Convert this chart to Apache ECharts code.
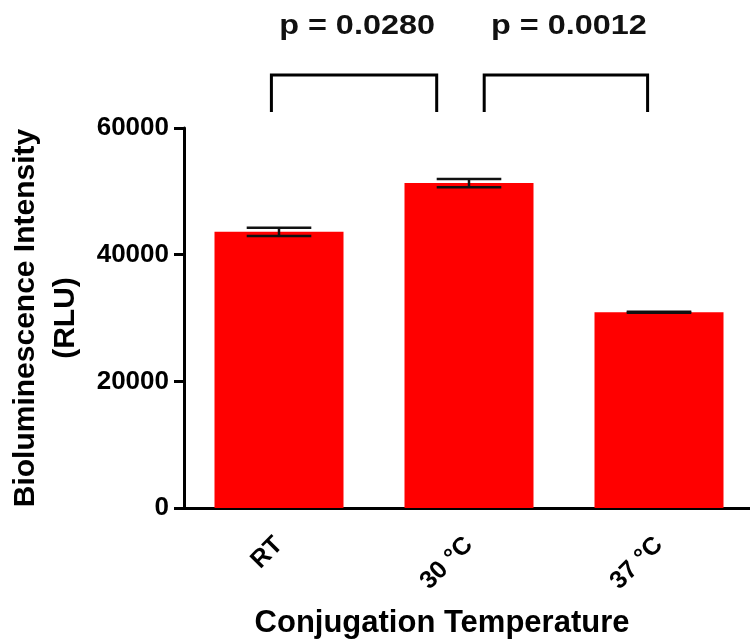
<!DOCTYPE html>
<html>
<head>
<meta charset="utf-8">
<script src="https://cdn.jsdelivr.net/npm/echarts@6/dist/echarts.min.js"></script>
<style>
  html, body { margin: 0; padding: 0; background: #fff; }
  #chart { width: 750px; height: 641px; }
</style>
</head>
<body>
<div id="chart"></div>
<script>
// Conjugation temperature groups and their mean luminescence (RLU) with SEM
const categories = ['RT', '30 °C', '37 °C'];
const means = [43600, 51300, 30900];
const sems = [650, 650, 80];
const yTicks = [0, 20000, 40000, 60000];

// Pairwise comparisons (category indexes) and their p-values
const comparisons = [[0, 1], [1, 2]];
const pValues = ['p = 0.0280', 'p = 0.0012'];

const FONT = '"Liberation Sans", Arial, sans-serif';

// Horizontal ends of each bracket, as a fraction of a category band from its centre
const bracketEnds = [[-0.04, -0.17], [0.08, -0.06]];

const chart = echarts.init(document.getElementById('chart'), null, { renderer: 'canvas' });

function renderErrorBar(params, api) {
  const i = api.value(0);
  const m = means[i], s = sems[i];
  const hi = api.coord([i, m + s]);
  const lo = api.coord([i, m - s]);
  const half = api.size([1, 0])[0] * 0.17;
  const style = { stroke: '#111', lineWidth: 2.5, fill: null };
  return {
    type: 'group',
    children: [
      { type: 'line', shape: { x1: hi[0], y1: hi[1], x2: lo[0], y2: lo[1] }, style },
      { type: 'line', shape: { x1: hi[0] - half, y1: hi[1], x2: hi[0] + half, y2: hi[1] }, style },
      { type: 'line', shape: { x1: lo[0] - half, y1: lo[1], x2: lo[0] + half, y2: lo[1] }, style }
    ]
  };
}

function renderBracket(params, api) {
  const k = params.dataIndex;
  const pair = comparisons[k];
  const band = api.size([1, 0])[0];
  const top = api.coord([0, yTicks[yTicks.length - 1]])[1];
  const xl = api.coord([pair[0], 0])[0] + bracketEnds[k][0] * band;
  const xr = api.coord([pair[1], 0])[0] + bracketEnds[k][1] * band;
  const yTop = top - 53, yBot = top - 16;
  const style = { stroke: '#000', lineWidth: 3, fill: null };
  return {
    type: 'group',
    children: [
      { type: 'polyline', shape: { points: [[xl, yBot], [xl, yTop], [xr, yTop], [xr, yBot]] }, style },
      {
        type: 'text',
        x: (xl + xr) / 2 + 3,
        y: top - 101,
        scaleX: 1.2,
        style: {
          text: pValues[k], x: 0, y: 0,
          align: 'center', verticalAlign: 'middle',
          fontSize: 27, fontWeight: 'bold', fontFamily: FONT, fill: '#111'
        }
      }
    ]
  };
}

chart.setOption({
  animation: false,
  backgroundColor: '#fff',
  grid: { left: 184, right: -4, top: 128, bottom: 133, containLabel: false, outerBoundsMode: 'none' },
  xAxis: {
    type: 'category',
    data: categories,
    name: 'Conjugation Temperature',
    nameLocation: 'middle',
    nameGap: 100,
    nameTextStyle: { fontSize: 31, fontWeight: 'bold', fontFamily: FONT, color: '#000', padding: [0, 54, 0, 0] },
    axisLine: { lineStyle: { color: '#000', width: 3 } },
    axisTick: { alignWithLabel: true, length: 12, lineStyle: { color: '#000', width: 3 } },
    axisLabel: { rotate: 45, margin: 33, fontSize: 25, fontWeight: 'bold', fontFamily: FONT, color: '#000' }
  },
  yAxis: {
    type: 'value',
    min: yTicks[0],
    max: yTicks[yTicks.length - 1],
    interval: yTicks[1] - yTicks[0],
    name: 'Bioluminescence Intensity\n(RLU)',
    nameLocation: 'middle',
    nameGap: 98,
    nameTextStyle: { fontSize: 30, fontWeight: 'bold', fontFamily: FONT, color: '#000', lineHeight: 40 },
    axisLine: { show: true, lineStyle: { color: '#000', width: 3 } },
    axisTick: { show: true, length: 10, lineStyle: { color: '#000', width: 3 } },
    splitLine: { show: false },
    axisLabel: {
      margin: 15, fontSize: 26, fontWeight: 'bold', fontFamily: FONT, color: '#000',
      formatter: v => String(v)
    }
  },
  series: [
    {
      type: 'bar',
      data: means,
      barWidth: 129,
      itemStyle: { color: '#ff0000' },
      z: 2
    },
    {
      type: 'custom',
      data: categories.map((c, i) => [i, means[i]]),
      renderItem: renderErrorBar,
      z: 3,
      silent: true
    },
    {
      type: 'custom',
      data: comparisons.map(p => [p[0], 0]),
      renderItem: renderBracket,
      clip: false,
      z: 4,
      silent: true
    }
  ]
});
</script>
</body>
</html>
